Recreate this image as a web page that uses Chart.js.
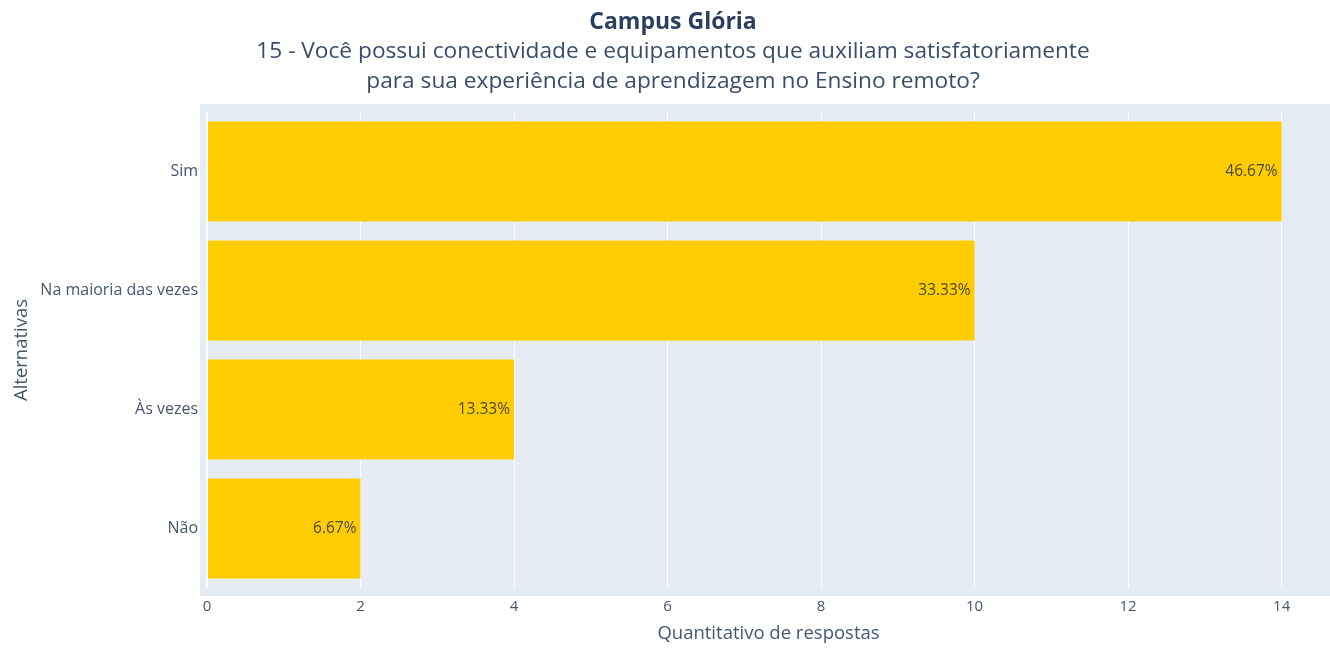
<!DOCTYPE html>
<html>
<head>
<meta charset="utf-8">
<script src="https://cdn.jsdelivr.net/npm/chart.js@4/dist/chart.umd.min.js"></script>
<style>
  html, body { margin: 0; padding: 0; background: #fff; }
  #wrap { width: 1330px; height: 653px; }
</style>
</head>
<body>
<div id="wrap"><canvas id="chart"></canvas></div>
<script>
const categories = ["Sim", "Na maioria das vezes", "Às vezes", "Não"];
const counts = [14, 10, 4, 2];
const xTicks = [0, 2, 4, 6, 8, 10, 12, 14];

const total = counts.reduce((a, b) => a + b, 0);
const percentLabels = counts.map(v => (v / total * 100).toFixed(2) + "%");

const font = "'Open Sans', sans-serif";
const titleColor = "#2a3f5f";
const textColor = "#46566f";

// plot background a bit larger than the axis range, like plotly
const plotBg = {
  id: "plotBg",
  beforeDraw(chart) {
    const { ctx, chartArea } = chart;
    ctx.save();
    ctx.fillStyle = "#e5ecf6";
    ctx.fillRect(chartArea.left - 7, chartArea.top - 8,
      chartArea.right - chartArea.left + 7, chartArea.bottom - chartArea.top + 16);
    ctx.restore();
  }
};

const barText = {
  id: "barText",
  afterDatasetsDraw(chart) {
    const { ctx } = chart;
    const meta = chart.getDatasetMeta(0);
    ctx.save();
    ctx.font = "15.5px " + font;
    ctx.fillStyle = "#4a4a40";
    ctx.textAlign = "right";
    ctx.textBaseline = "middle";
    meta.data.forEach((bar, i) => {
      ctx.fillText(percentLabels[i], bar.x - 4, bar.y);
    });
    ctx.restore();
  }
};

new Chart(document.getElementById("chart"), {
  type: "bar",
  data: {
    labels: categories,
    datasets: [{
      data: counts,
      backgroundColor: "#ffcc00",
      categoryPercentage: 1,
      barPercentage: 0.84,
    }]
  },
  options: {
    indexAxis: "y",
    responsive: true,
    maintainAspectRatio: false,
    animation: false,
    layout: { padding: { left: 16, right: 0, top: 0, bottom: 0 } },
    plugins: {
      legend: { display: false },
      tooltip: { enabled: false },
      title: {
        display: true,
        text: "Campus Glória",
        color: titleColor,
        font: { family: font, size: 23, weight: "bold", lineHeight: 30 / 23 },
        padding: { top: 7, bottom: 0 },
      },
      subtitle: {
        display: true,
        text: ["15 - Você possui conectividade e equipamentos que auxiliam satisfatoriamente",
               "para sua experiência de aprendizagem no Ensino remoto?"],
        color: "#3a4c68",
        font: { family: font, size: 22.7, lineHeight: 30 / 22.7 },
        padding: { top: 0, bottom: 15 },
      },
    },
    scales: {
      x: {
        min: 0,
        max: 14.63,
        border: { display: false },
        grid: {
          color: "#ffffff",
          drawTicks: false,
          lineWidth: ctx => ctx.tick && ctx.tick.value === 0 ? 2 : 1,
        },
        afterBuildTicks: scale => { scale.ticks = xTicks.map(v => ({ value: v })); },
        afterFit: scale => { scale.height = 65; },
        ticks: {
          color: textColor,
          padding: 10,
          font: { family: font, size: 15 },
        },
        title: {
          display: true,
          text: "Quantitativo de respostas",
          color: textColor,
          font: { family: font, size: 18.5 },
          padding: { top: 0, bottom: 8 },
        },
      },
      y: {
        offset: true,
        border: { display: false },
        grid: { display: false, drawTicks: false },
        afterFit: scale => { scale.width = 191; },
        ticks: {
          color: textColor,
          padding: 9,
          font: { family: font, size: 16 },
        },
        title: {
          display: true,
          text: "Alternativas",
          color: textColor,
          font: { family: font, size: 18.5 },
          padding: { top: -5, bottom: 0 },
        },
      },
    },
  },
  plugins: [plotBg, barText],
});
</script>
</body>
</html>
